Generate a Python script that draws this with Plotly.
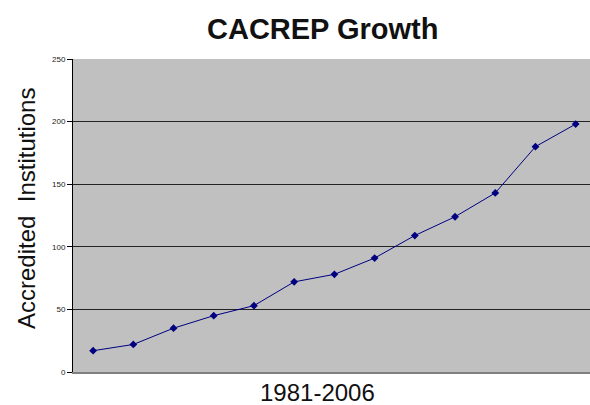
import plotly.graph_objects as go

categories = ["1981", "1983", "1985", "1987", "1989", "1991", "1993",
              "1995", "1997", "1999", "2001", "2003", "2006"]
institutions = [17, 22, 35, 45, 53, 72, 78, 91, 109, 124, 143, 180, 198]
y_ticks = [0, 50, 100, 150, 200, 250]

title_text = "CACREP Growth"
x_title = "1981-2006"
y_title = "Accredited  Institutions"

fig = go.Figure()
fig.add_trace(go.Scatter(
    x=categories, y=institutions, mode="lines+markers",
    line=dict(color="#000080", width=1),
    marker=dict(symbol="diamond", size=6, color="#000080"),
    showlegend=False, hoverinfo="skip",
))

font_family = "Liberation Sans, Arial, sans-serif"
fig.update_layout(
    width=590, height=405,
    margin=dict(l=73, r=0, t=59, b=33),
    paper_bgcolor="white", plot_bgcolor="#C0C0C0",
    font=dict(family=font_family, color="black"),
    showlegend=False,
    annotations=[
        dict(text="<b>" + title_text + "</b>", xref="paper", yref="paper",
             x=(322 - 73) / 517, y=1 + (59 - 29) / 313, xanchor="center", yanchor="middle",
             showarrow=False, font=dict(size=29, color="#111", family=font_family)),
        dict(text=x_title, xref="paper", yref="paper",
             x=(317 - 73) / 517, y=-(392 - 372) / 313, xanchor="center", yanchor="middle",
             showarrow=False, font=dict(size=24, color="#111", family=font_family)),
        dict(text=y_title, xref="paper", yref="paper", textangle=-90,
             x=-(73 - 26) / 517, y=(372 - 209) / 313, xanchor="center", yanchor="middle",
             showarrow=False, font=dict(size=24, color="#111", family=font_family)),
    ],
)
fig.update_xaxes(
    type="category", range=[-0.5, 12.356], showticklabels=False, ticks="",
    showgrid=False, zeroline=False, showline=True, linecolor="#808080", linewidth=2,
    mirror=False,
)
fig.update_yaxes(
    range=[0, 250], tickvals=y_ticks, ticks="outside", ticklen=5, tickcolor="black",
    tickfont=dict(size=8, color="#222"), showgrid=True, gridcolor="#222", gridwidth=1,
    zeroline=False, showline=True, linecolor="black", linewidth=1,
)

fig.write_html(
    "out.html",
    config={"displayModeBar": False},
    post_script="document.body.style.margin='0';document.body.style.overflow='hidden';",
)
